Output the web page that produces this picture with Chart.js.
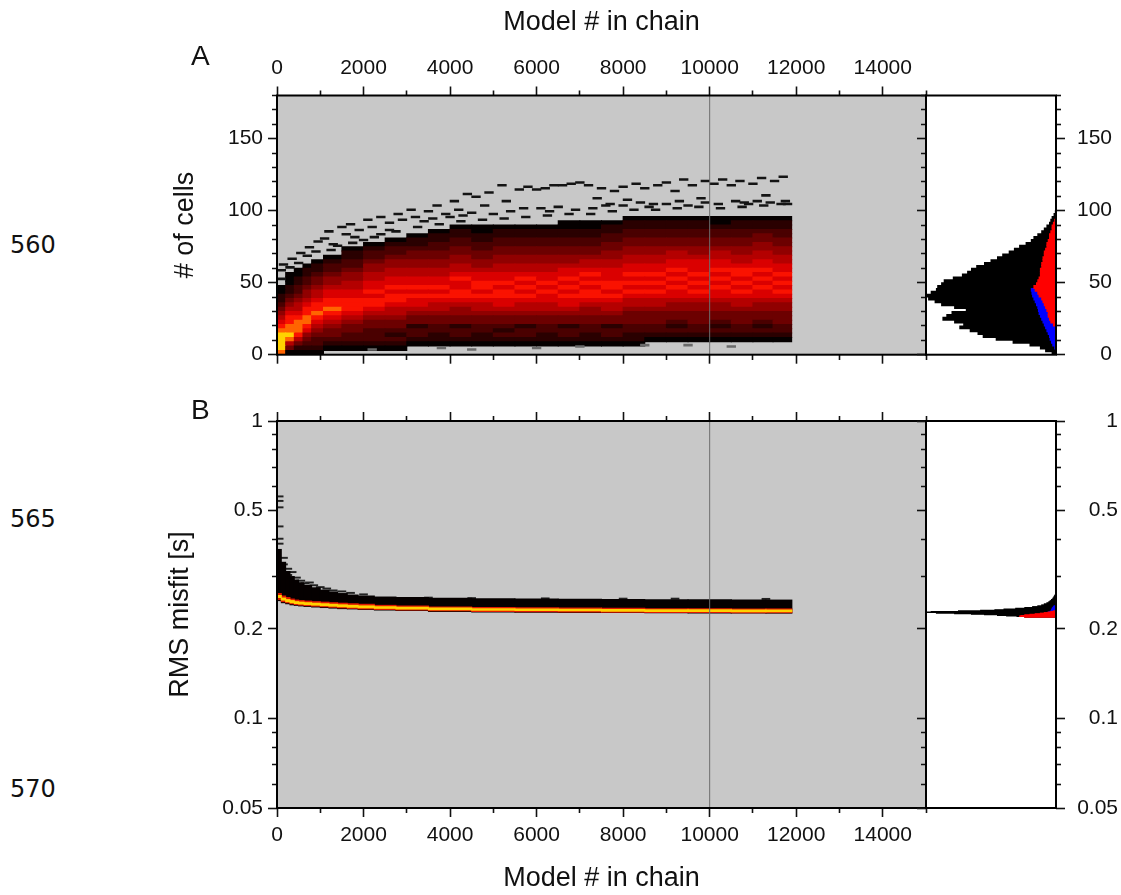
<!DOCTYPE html>
<html>
<head>
<meta charset="utf-8">
<script src="https://cdn.jsdelivr.net/npm/chart.js@4.4.1/dist/chart.umd.min.js"></script>
<style>
  body { margin: 0; background: #fff; }
  #fig { position: relative; width: 1121px; height: 895px; overflow: hidden; }
  canvas { position: absolute; }
  .txt { position: absolute; line-height: 1; white-space: nowrap; color: #111; }
  .panel { font-family: 'Liberation Sans', Arial, sans-serif; font-size: 28px; }
  .lineno { font-family: 'DejaVu Sans', sans-serif; font-size: 24px; }
</style>
</head>
<body>
<div id="fig">
  <canvas id="mainA" width="800" height="380" style="left:150px; top:0px"></canvas>
  <canvas id="mainB" width="800" height="515" style="left:150px; top:380px"></canvas>
  <canvas id="sideA" width="231" height="380" style="left:890px; top:0px"></canvas>
  <canvas id="sideB" width="231" height="515" style="left:890px; top:380px"></canvas>
  <div class="txt panel" style="left:191px; top:42px">A</div>
  <div class="txt panel" style="left:191px; top:396px">B</div>
  <div class="txt lineno" style="left:10px; top:233px">560</div>
  <div class="txt lineno" style="left:10px; top:507px">565</div>
  <div class="txt lineno" style="left:10px; top:777px">570</div>
</div>

<script>
// ---- axes ----
const modelTicks = [0, 1000, 2000, 3000, 4000, 5000, 6000, 7000, 8000, 9000, 10000, 11000, 12000, 13000, 14000, 15000];
const cellTicks = [0, 10, 20, 30, 40, 50, 60, 70, 80, 90, 100, 110, 120, 130, 140, 150, 160, 170, 180];
const rmsTicks = [0.05, 0.06, 0.07, 0.08, 0.09, 0.1, 0.2, 0.3, 0.4, 0.5, 0.6, 0.7, 0.8, 0.9, 1];
const rmsLabels = ['0.05', '0.1', '0.2', '0.5', '1'];
const markerModel = 10000;

// ---- panel A: density of # of cells along the chain ----
// one string per column, one char per 3 cells from the bottom ('.' = empty, 0 black .. 9 yellow)
const colX = [100, 300, 500, 700, 900, 1250, 1750, 2250, 2750, 3250, 3750, 4250, 4750, 5250,
              5750, 6250, 6750, 7250, 7750, 8250, 8750, 9250, 9750, 10250, 10750, 11250, 11680];
const heatCols = [
  "8999987654321100",
  "0358988776543211000",
  "01357888765543221100",
  "012346788776544322110",
  "0122345678776554332110",
  ".0123345678776654432210",
  ".012233456777665544322110",
  ".0122233456776766554432210",
  ".01212334556776766554432210",
  "..01221334566767665544332110",
  "..011223345567676655443322110",
  "..0122133445677667655443322110",
  "..0112233455676776654433221100",
  "..0121233456677676655443322110",
  "..0122133455676767655443322110",
  "..0112233455667676655443322110",
  "..01221334566767676654433221100",
  "..01122334456776767655433221100",
  "..01221334556767766655443322110",
  "..011223334556767676655443322110",
  "...01223334556767676655443322110",
  "...01212334456676767665543322110",
  "...01223334456767676665443322110",
  "...01212334456676767665543322100",
  "...01223334556767677655443322110",
  "...01212334456676767665544332110",
  "...01223334456767676655443322110"
];
const rowCells = 3;

// sparse cells outside the dense region
const outX = [100, 100, 150, 300, 350, 500, 550, 700, 750, 900, 950,
  1100, 1200, 1300, 1500, 1600, 1700, 1900, 2100, 2200, 2400, 2600, 2800, 2900,
  3100, 3200, 3500, 3700, 3900, 4100, 4200, 4400, 4600, 4800, 4900,
  5200, 5300, 5600, 5800, 6000, 6100, 6200, 6400, 6600, 6800, 7000, 7200, 7400, 7500,
  7600, 7800, 8000, 8100, 8300, 8500, 8700, 8800, 9000, 9200, 9400, 9600, 9800, 9900,
  10100, 10300, 10500, 10700, 10800, 11000, 11200, 11300, 11500, 11700, 11800,
  1250, 1750, 2250, 2750, 3250, 3750, 4250, 4750, 5250, 5750, 6250, 6750, 7250, 7750,
  8250, 8750, 9250, 9750, 10250, 10750, 11250, 11650,
  1400, 1800, 2000, 2400, 2600, 3400, 3600, 4000, 4300, 4500, 5000, 5400, 5700, 6300,
  6500, 6900, 7300, 7700, 8000, 8400, 8600, 9000, 9300, 9500, 9900, 10200, 10600, 10900,
  11100, 11400, 11750,
  2200, 3800, 4500, 6000, 7000, 8500, 9500, 10500];
const outCell = [52, 58, 62, 60, 66, 63, 70, 68, 74, 71, 78,
  80, 85, 76, 88, 83, 90, 86, 93, 88, 95, 91, 97, 93,
  100, 95, 99, 103, 97, 106, 100, 111, 109, 103, 112,
  117, 106, 114, 116, 114, 101, 115, 117, 117, 118, 119, 117, 108, 115,
  103, 113, 116, 107, 118, 115, 104, 117, 119, 113, 121, 117, 108, 120,
  118, 121, 117, 120, 105, 118, 122, 110, 120, 123, 104,
  72, 77, 81, 85, 88, 90, 92, 93, 94, 95, 96, 97, 97, 99,
  100, 100, 101, 102, 101, 102, 103, 104,
  75, 81, 79, 83, 86, 92, 94, 95, 96, 98, 97, 99, 101, 99,
  102, 100, 101, 104, 103, 105, 102, 104, 106, 103, 105, 104, 106, 104,
  106, 105, 106,
  3, 4, 3, 4, 5, 6, 6, 5];

// side histogram of # of cells (percent of panel width)
const histCells = [1, 3, 5, 7, 9, 11, 13, 15, 17, 19, 21, 23, 25, 27, 29, 31, 33, 35, 37, 39, 41, 43, 45, 47, 49,
                   51, 53, 55, 57, 59, 61, 63, 65, 67, 69, 71, 73, 75, 77, 79, 81, 83, 85, 87, 89, 91, 93, 95, 97, 99];
const histBlack = [3, 8, 12, 20, 33, 46, 56, 60, 66, 74, 71, 78, 87, 84, 80, 69, 78, 88, 93, 98, 100, 96, 92, 91, 88,
                   86, 79, 72, 68, 65, 61, 55, 50, 45, 41, 36, 32, 28, 23, 19, 17, 14, 11, 9, 7, 5, 4, 3, 1.5, 0.5];
const histBlue = [0, 0, 1, 2.5, 3.5, 4.5, 5, 6, 7, 8, 9, 10, 11, 12, 13, 13.5, 14, 15, 16, 17, 18, 18.5, 19, 0, 0,
                  0, 0, 0, 0, 0, 0, 0, 0, 0, 0, 0, 0, 0, 0, 0, 0, 0, 0, 0, 0, 0, 0, 0, 0, 0];
const histRed = [0, 0, 0, 0, 0, 0, 0, 0, 0, 0, 2, 4, 5, 6, 6, 7, 8, 9, 10, 11, 13, 14, 16, 17, 15,
                 14, 13, 12, 12, 12, 11, 11, 10, 10, 9, 9, 8, 7, 7, 6, 5, 5, 4, 3, 3, 2, 1, 0, 0, 0];

// ---- panel B: RMS misfit along the chain ----
const colXB = [50, 150, 250, 350, 450, 550, 700, 900, 1100, 1300, 1500, 1750, 2000, 2500, 3000,
               4000, 5000, 6000, 7000, 8000, 9000, 10000, 11000, 11600];
const bBlackHi = [0.370, 0.335, 0.312, 0.300, 0.292, 0.286, 0.280, 0.275, 0.270, 0.266, 0.263, 0.260,
                  0.258, 0.256, 0.255, 0.2535, 0.2525, 0.252, 0.2515, 0.251, 0.2505, 0.2505, 0.250, 0.250];
const bBlackLo = [0.249, 0.245, 0.243, 0.241, 0.240, 0.239, 0.238, 0.237, 0.236, 0.235, 0.234, 0.2335,
                  0.2325, 0.2315, 0.2305, 0.229, 0.228, 0.2275, 0.2272, 0.227, 0.2265, 0.2262, 0.226, 0.226];
const bRedHi = [0.263, 0.258, 0.255, 0.252, 0.250, 0.249, 0.248, 0.247, 0.246, 0.245, 0.244, 0.243,
                0.242, 0.240, 0.239, 0.237, 0.236, 0.2355, 0.235, 0.2345, 0.234, 0.2338, 0.2335, 0.2335];
const bRedLo = [0.251, 0.247, 0.245, 0.243, 0.2415, 0.2405, 0.2395, 0.2385, 0.2375, 0.2365, 0.2355, 0.2345,
                0.2335, 0.2325, 0.2315, 0.230, 0.229, 0.2285, 0.228, 0.2275, 0.2272, 0.227, 0.2268, 0.2268];
const bYellowHi = [0.259, 0.254, 0.251, 0.249, 0.247, 0.246, 0.245, 0.244, 0.243, 0.242, 0.241, 0.240,
                   0.239, 0.2375, 0.2365, 0.235, 0.234, 0.2335, 0.233, 0.2325, 0.232, 0.2318, 0.2315, 0.2315];
const bYellowLo = [0.255, 0.250, 0.247, 0.245, 0.2435, 0.2425, 0.2415, 0.2405, 0.2395, 0.2385, 0.2375, 0.2365,
                   0.2355, 0.2345, 0.2335, 0.232, 0.231, 0.2305, 0.230, 0.2295, 0.229, 0.2288, 0.2285, 0.2285];
const outXB = [50, 50, 50, 50, 50, 50, 150, 150, 250, 250, 350, 450, 550, 650, 750, 850, 1000, 1150, 1300,
               1500, 1700, 2000, 3500, 4500, 6200, 8000, 9200, 11300];
const outRmsB = [0.555, 0.536, 0.510, 0.440, 0.400, 0.385, 0.345, 0.328, 0.317, 0.302, 0.309, 0.296, 0.289,
                 0.283, 0.285, 0.279, 0.275, 0.272, 0.268, 0.266, 0.263, 0.260, 0.2535, 0.2525, 0.252, 0.2515, 0.2515, 0.251];

// side histogram of RMS misfit (percent of panel width)
const rowsB = [0.2195, 0.2205, 0.2215, 0.2225, 0.2235, 0.2245, 0.2255, 0.2265, 0.2275, 0.2285, 0.2295, 0.2305,
               0.2315, 0.2325, 0.2340, 0.2355, 0.2370, 0.2385, 0.2400, 0.2420, 0.2440, 0.2460, 0.2480, 0.2500,
               0.2525, 0.2550, 0.2575, 0.2600];
const blackB = [24, 30, 38, 45, 55, 65, 78, 92, 100, 96, 75, 58, 47, 40, 31, 24, 18, 14, 11, 9, 7, 5.5, 4.5, 3.5, 2.5, 1.8, 1.2, 0.6];
const blueB = [0, 0, 0, 0, 0, 0, 0, 0, 6, 5, 4, 3.5, 3.5, 3, 3, 2.5, 2, 1.5, 0, 0, 0, 0, 0, 0, 0, 0, 0, 0];
const redB = [24, 28, 27, 24, 20, 16, 12, 9, 6, 4, 2, 0, 0, 0, 0, 0, 0, 0, 0, 0, 0, 0, 0, 0, 0, 0, 0, 0];

// ---- styles ----
const heatColors = {
  '0': '#050000', '1': '#2a0000', '2': '#4a0000', '3': '#6c0000', '4': '#900000',
  '5': '#b40000', '6': '#da0000', '7': '#fa1200', '8': '#ff6400', '9': '#ffd200'
};
const plotGray = '#c8c8c8';
const tickFont = { family: 'Liberation Sans', size: 21 };
const titleFont = { family: 'Liberation Sans', size: 27 };

Chart.defaults.font.family = 'Liberation Sans';
Chart.defaults.color = '#111';

const framePlugin = {
  id: 'frame',
  beforeDatasetsDraw(chart, args, opts) {
    const { ctx, chartArea: a } = chart;
    if (opts.bg) {
      ctx.save();
      ctx.fillStyle = opts.bg;
      ctx.fillRect(a.left, a.top, a.right - a.left, a.bottom - a.top);
      ctx.restore();
    }
  },
  afterDraw(chart) {
    const { ctx, chartArea: a } = chart;
    ctx.save();
    ctx.strokeStyle = '#000';
    ctx.lineWidth = 2;
    ctx.strokeRect(a.left, a.top, a.right - a.left, a.bottom - a.top);
    ctx.restore();
  }
};

const isMajorModel = v => v % 2000 === 0;
const isMajorCell = v => v % 50 === 0;
const isMajorRms = v => rmsLabels.includes(String(v));

// tick marks: majors 9px, minors 5px (dash pattern shortens them next to the frame)
function tickGrid(outerFirst, isMajor) {
  return {
    drawOnChartArea: false, drawTicks: true, tickLength: 9, tickWidth: 1.6, tickColor: '#111',
    tickBorderDash: ctx => (!ctx.tick || isMajor(ctx.tick.value)) ? [] : (outerFirst ? [0, 4, 5, 40] : [5, 40])
  };
}

function axis(opts) {
  const { type = 'linear', position, min, max, ticks, isMajor, label, size, title, pad = 5, far = false, stacked = false } = opts;
  const outerFirst = position === 'top' || position === 'left';
  return {
    type, position, min, max, offset: false, reverse: false, stacked,
    border: { display: false },
    grid: Object.assign(tickGrid(outerFirst, isMajor), { offset: false }),
    afterBuildTicks: s => { s.ticks = ticks.map(v => ({ value: v })); },
    ticks: {
      autoSkip: false, maxRotation: 0, minRotation: 0, padding: pad, font: tickFont, color: '#111',
      crossAlign: far ? 'far' : 'near',
      callback: v => label(v)
    },
    title: title || { display: false },
    afterFit: s => {
      if (position === 'top' || position === 'bottom') s.height = size; else s.width = size;
    }
  };
}

const modelLabel = v => (isMajorModel(v) && v <= 14000) ? String(v) : '';
const cellLabel = v => (isMajorCell(v) && v <= 150) ? String(v) : '';
const rmsLabel = v => isMajorRms(v) ? String(v) : '';
const noLabel = () => '';

// flex bars: each bar fills the gap to its neighbours; one shared stack so they overlap instead of grouping
const flexBar = { barThickness: 'flex', categoryPercentage: 1, barPercentage: 1, stack: 'all', inflateAmount: 0.5 };

// ---- panel A main ----
const heatSets = [];
const nRows = Math.max(...heatCols.map(s => s.length));
for (let r = 0; r < nRows; r++) {
  heatSets.push(Object.assign({
    type: 'bar', xAxisID: 'x', yAxisID: 'y', order: 3,
    data: colX.map((x, i) => {
      const ch = heatCols[i][r];
      return { x, y: (ch && ch !== '.') ? [r * rowCells, (r + 1) * rowCells] : null };
    }),
    backgroundColor: colX.map((x, i) => heatColors[heatCols[i][r]] || 'rgba(0,0,0,0)')
  }, flexBar));
}

new Chart(document.getElementById('mainA'), {
  type: 'bar',
  data: {
    datasets: [
      { type: 'line', xAxisID: 'x', yAxisID: 'y', order: 0,
        data: [{ x: markerModel, y: 0 }, { x: markerModel, y: 180 }],
        borderColor: '#6e6e6e', borderWidth: 1, pointRadius: 0 },
      { type: 'bar', xAxisID: 'x', yAxisID: 'y', order: 1,
        data: outX.map((x, i) => ({ x, y: [outCell[i], outCell[i] + 1.3] })),
        backgroundColor: outCell.map(c => c < 10 ? '#6a6a6a' : '#141414'),
        barThickness: 8.7, grouped: false },
      ...heatSets
    ]
  },
  options: {
    responsive: false, animation: false, events: [],
    layout: { padding: { left: 0, right: 24, top: 0, bottom: 0 } },
    plugins: { legend: { display: false }, tooltip: { enabled: false }, frame: { bg: plotGray } },
    scales: {
      x: axis({ position: 'top', min: 0, max: 15000, ticks: modelTicks, isMajor: isMajorModel, label: modelLabel,
                size: 95.5, pad: 6, stacked: true,
                title: { display: true, text: 'Model # in chain', font: titleFont, color: '#111', padding: { top: 6, bottom: 0 } } }),
      x2: axis({ position: 'bottom', min: 0, max: 15000, ticks: modelTicks, isMajor: isMajorModel, label: noLabel, size: 25.3 }),
      y: axis({ position: 'left', min: 0, max: 180, ticks: cellTicks, isMajor: isMajorCell, label: cellLabel, size: 127,
                title: { display: true, text: '# of cells', font: titleFont, color: '#111', padding: { top: 19, bottom: 0 } } })
    }
  },
  plugins: [framePlugin]
});

// ---- panel A side histogram ----
function sideBar(values, color, order) {
  return Object.assign({
    type: 'bar', xAxisID: 'x', yAxisID: 'y', order,
    data: values, backgroundColor: color
  }, flexBar);
}

new Chart(document.getElementById('sideA'), {
  type: 'bar',
  data: {
    datasets: [
      sideBar(histCells.map((c, i) => ({ x: histRed[i], y: c })), '#ff0000', 0),
      sideBar(histCells.map((c, i) => ({ x: histBlue[i], y: c })), '#0000ff', 1),
      sideBar(histCells.map((c, i) => ({ x: histBlack[i], y: c })), '#000000', 2)
    ]
  },
  options: {
    indexAxis: 'y', responsive: false, animation: false, events: [],
    layout: { padding: { left: 0, right: 9, top: 95.5, bottom: 25.3 } },
    plugins: { legend: { display: false }, tooltip: { enabled: false }, frame: { bg: '#ffffff' } },
    scales: {
      x: { type: 'linear', display: false, min: 0, max: 100, reverse: true, offset: false, stacked: false },
      y: axis({ position: 'right', min: 0, max: 180, ticks: cellTicks, isMajor: isMajorCell, label: cellLabel,
                size: 56, far: true, stacked: true }),
      y2: axis({ position: 'left', min: 0, max: 180, ticks: cellTicks, isMajor: isMajorCell, label: noLabel, size: 36 })
    }
  },
  plugins: [framePlugin]
});

// ---- panel B main ----
function bandSet(lo, hi, color, order) {
  return Object.assign({
    type: 'bar', xAxisID: 'x', yAxisID: 'y', order,
    data: colXB.map((x, i) => ({ x, y: [lo[i], hi[i]] })),
    backgroundColor: color
  }, flexBar);
}

new Chart(document.getElementById('mainB'), {
  type: 'bar',
  data: {
    datasets: [
      { type: 'line', xAxisID: 'x', yAxisID: 'y', order: 0,
        data: [{ x: markerModel, y: 0.05 }, { x: markerModel, y: 1 }],
        borderColor: '#6e6e6e', borderWidth: 1, pointRadius: 0 },
      bandSet(bYellowLo, bYellowHi, '#ffd200', 1),
      bandSet(bRedLo, bRedHi, '#e01800', 2),
      bandSet(bBlackLo, bBlackHi, '#050000', 3),
      { type: 'bar', xAxisID: 'x', yAxisID: 'y', order: 4,
        data: outXB.map((x, i) => ({ x, y: [outRmsB[i], outRmsB[i] * 1.01] })),
        backgroundColor: '#222222', barThickness: 8, grouped: false }
    ]
  },
  options: {
    responsive: false, animation: false, events: [],
    layout: { padding: { left: 0, right: 24, top: 0, bottom: 0 } },
    plugins: { legend: { display: false }, tooltip: { enabled: false }, frame: { bg: plotGray } },
    scales: {
      x: axis({ position: 'bottom', min: 0, max: 15000, ticks: modelTicks, isMajor: isMajorModel, label: modelLabel,
                size: 87, pad: 6, stacked: true,
                title: { display: true, text: 'Model # in chain', font: titleFont, color: '#111', padding: { top: 0, bottom: 0 } } }),
      x2: axis({ position: 'top', min: 0, max: 15000, ticks: modelTicks, isMajor: isMajorModel, label: noLabel, size: 41 }),
      y: axis({ type: 'logarithmic', position: 'left', min: 0.05, max: 1, ticks: rmsTicks, isMajor: isMajorRms, label: rmsLabel,
                size: 127,
                title: { display: true, text: 'RMS misfit [s]', font: titleFont, color: '#111', padding: { top: 14, bottom: 0 } } })
    }
  },
  plugins: [framePlugin]
});

// ---- panel B side histogram ----
new Chart(document.getElementById('sideB'), {
  type: 'bar',
  data: {
    datasets: [
      sideBar(rowsB.map((v, i) => ({ x: redB[i], y: v })), '#ff0000', 0),
      sideBar(rowsB.map((v, i) => ({ x: blueB[i], y: v })), '#0000ff', 1),
      sideBar(rowsB.map((v, i) => ({ x: blackB[i], y: v })), '#000000', 2)
    ]
  },
  options: {
    indexAxis: 'y', responsive: false, animation: false, events: [],
    layout: { padding: { left: 0, right: 3, top: 41, bottom: 87 } },
    plugins: { legend: { display: false }, tooltip: { enabled: false }, frame: { bg: '#ffffff' } },
    scales: {
      x: { type: 'linear', display: false, min: 0, max: 100, reverse: true, offset: false, stacked: false },
      y: axis({ type: 'logarithmic', position: 'right', min: 0.05, max: 1, ticks: rmsTicks, isMajor: isMajorRms,
                label: rmsLabel, size: 62, far: true, stacked: true }),
      y2: axis({ type: 'logarithmic', position: 'left', min: 0.05, max: 1, ticks: rmsTicks, isMajor: isMajorRms,
                 label: noLabel, size: 36 })
    }
  },
  plugins: [framePlugin]
});
</script>
</body>
</html>
